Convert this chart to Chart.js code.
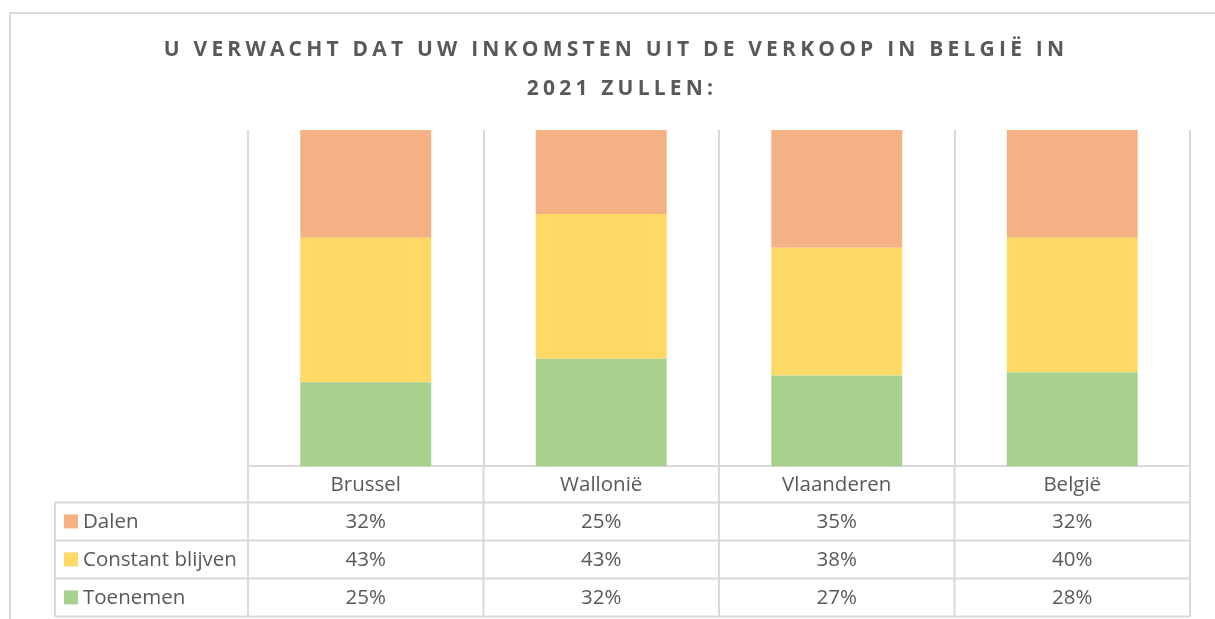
<!DOCTYPE html>
<html>
<head>
<meta charset="utf-8">
<script src="https://cdn.jsdelivr.net/npm/chart.js@4.4.0/dist/chart.umd.min.js"></script>
<style>
  html, body { margin: 0; padding: 0; background: #fff; }
  #wrap { width: 1215px; height: 619px; position: relative; }
</style>
</head>
<body>
<div id="wrap"><canvas id="chart"></canvas></div>
<script>
const titleLines = ['U VERWACHT DAT UW INKOMSTEN UIT DE VERKOOP IN BELGIË IN', '2021 ZULLEN:'];
const regions = ['Brussel', 'Wallonië', 'Vlaanderen', 'België'];
const dalen = [32, 25, 35, 32];
const constantBlijven = [43, 43, 38, 40];
const toenemen = [25, 32, 27, 28];
const seriesNames = ['Dalen', 'Constant blijven', 'Toenemen'];
const seriesColors = ['#f4b183', '#ffd966', '#a9d18e'];

const lineColor = '#d9d9d9';
const textColor = '#595959';
const font = '"Open Sans", "Liberation Sans", sans-serif';

// title, outer frame and the data table under the axis
const tablePlugin = {
  id: 'dataTable',
  afterDraw(chart) {
    const ctx = chart.ctx;
    const x = chart.scales.x;
    const area = chart.chartArea;
    const labelRowH = 36;
    const rowH = 38;
    const tableLeft = 55;
    const firstRow = area.bottom + labelRowH;
    const rows = [dalen, constantBlijven, toenemen];
    const bottom = firstRow + rows.length * rowH;
    const half = (x.getPixelForValue(1) - x.getPixelForValue(0)) / 2;

    ctx.save();
    // outer frame
    ctx.strokeStyle = lineColor;
    ctx.lineWidth = 2;
    ctx.beginPath();
    ctx.moveTo(10, 619);
    ctx.lineTo(10, 13);
    ctx.lineTo(1215, 13);
    ctx.stroke();

    // title
    ctx.fillStyle = textColor;
    ctx.font = 'bold 21px ' + font;
    ctx.letterSpacing = '4.2px';
    ctx.textAlign = 'center';
    ctx.textBaseline = 'alphabetic';
    ctx.fillText(titleLines[0], 616, 56);
    ctx.fillText(titleLines[1], 622, 95);
    ctx.letterSpacing = '0px';

    // table grid
    ctx.beginPath();
    for (let r = 0; r <= rows.length; r++) {
      const y = firstRow + r * rowH;
      ctx.moveTo(tableLeft, y);
      ctx.lineTo(area.right, y);
    }
    ctx.moveTo(tableLeft, firstRow);
    ctx.lineTo(tableLeft, bottom);
    for (let i = 0; i <= regions.length; i++) {
      const bx = x.getPixelForValue(0) - half + i * half * 2;
      ctx.moveTo(bx, area.bottom);
      ctx.lineTo(bx, bottom);
    }
    ctx.stroke();

    // row labels with legend keys, and values
    ctx.font = '20.5px ' + font;
    ctx.textBaseline = 'middle';
    rows.forEach((vals, r) => {
      const cy = firstRow + r * rowH + rowH / 2;
      ctx.fillStyle = seriesColors[r];
      ctx.fillRect(64, cy - 7, 14, 14);
      ctx.fillStyle = textColor;
      ctx.textAlign = 'left';
      ctx.fillText(seriesNames[r], 83, cy + 1);
      ctx.textAlign = 'center';
      vals.forEach((v, i) => {
        ctx.fillText(v + '%', x.getPixelForValue(i), cy + 1);
      });
    });
    ctx.restore();
  }
};

new Chart(document.getElementById('chart'), {
  type: 'bar',
  data: {
    labels: regions,
    datasets: [
      { label: seriesNames[2], data: toenemen, backgroundColor: seriesColors[2] },
      { label: seriesNames[1], data: constantBlijven, backgroundColor: seriesColors[1] },
      { label: seriesNames[0], data: dalen, backgroundColor: seriesColors[0] }
    ]
  },
  options: {
    responsive: true,
    maintainAspectRatio: false,
    animation: false,
    datasets: { bar: { barPercentage: 0.556, categoryPercentage: 1 } },
    layout: { padding: { left: 248, right: 25, top: 130, bottom: 116 } },
    plugins: {
      legend: { display: false },
      title: { display: false },
      tooltip: { enabled: false }
    },
    scales: {
      x: {
        stacked: true,
        grid: { color: lineColor, lineWidth: 2, drawTicks: false, offset: true },
        border: { color: lineColor, width: 2 },
        ticks: { color: textColor, font: { family: font, size: 20.5 }, padding: 6 }
      },
      y: { stacked: true, display: false, min: 0, max: 100 }
    }
  },
  plugins: [tablePlugin]
});
</script>
</body>
</html>
